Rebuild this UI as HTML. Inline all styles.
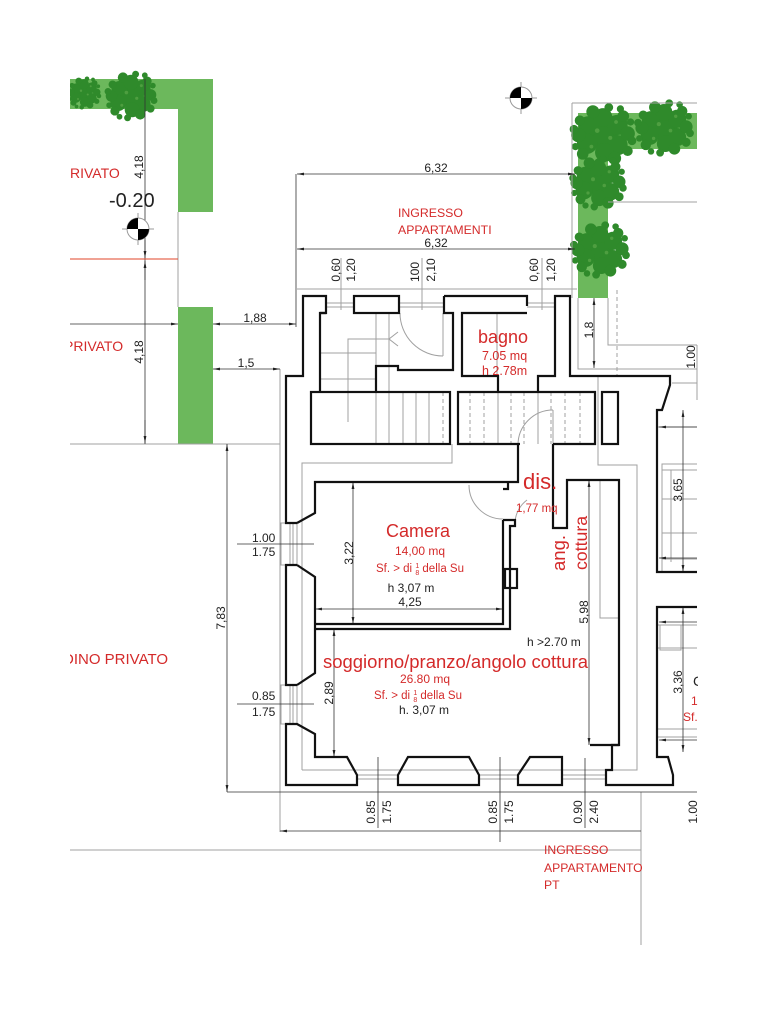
<!DOCTYPE html>
<html><head><meta charset="utf-8"><style>html,body{margin:0;padding:0;background:#fff}svg{display:block}</style></head>
<body>
<svg xmlns="http://www.w3.org/2000/svg" xmlns:xlink="http://www.w3.org/1999/xlink" width="768" height="1024" viewBox="0 0 768 1024" font-family="'Liberation Sans', Arial, sans-serif">
<defs>
<marker id="ar" viewBox="0 0 10 10" refX="10" refY="5" markerWidth="7" markerHeight="7" markerUnits="userSpaceOnUse" orient="auto-start-reverse"><path d="M0,3L10,5L0,7z" fill="#222"/></marker>
<g id="t">
<g fill="#2f8a2b">
<circle r="10"/><circle cx="-10" cy="-6" r="7"/><circle cx="10" cy="-7" r="7"/><circle cx="-11" cy="6" r="7"/><circle cx="10" cy="7" r="7"/><circle cx="0" cy="-12" r="6.5"/><circle cx="1" cy="12" r="6.5"/><circle cx="-17" cy="0" r="5"/><circle cx="17" cy="-1" r="5"/><circle cx="-7" cy="-16" r="4.5"/><circle cx="8" cy="16" r="4.5"/><circle cx="14" cy="-13" r="4"/><circle cx="-14" cy="13" r="4"/><circle cx="-16" cy="-10" r="3.5"/><circle cx="17" cy="11" r="3.5"/><circle cx="-3" cy="19" r="3"/><circle cx="4" cy="-19" r="3"/><circle cx="20" cy="4" r="3"/><circle cx="-20" cy="-4" r="3"/><circle cx="-19" cy="8" r="2.5"/><circle cx="19" cy="-9" r="2.5"/><circle cx="-10" cy="18" r="2.5"/><circle cx="12" cy="-18" r="2.5"/>
</g>
<g fill="#4e9e40"><circle cx="-4" cy="-3" r="1.6"/><circle cx="5" cy="2" r="1.4"/><circle cx="-8" cy="8" r="1.3"/><circle cx="9" cy="-9" r="1.3"/></g>
</g>
</defs>
<rect width="768" height="1024" fill="#fff"/>

<!-- green -->
<g fill="#6cb85c">
<path d="M70,79H213V212H178V109H70Z"/>
<rect x="178" y="307" width="35" height="137"/>
<path d="M578,113H697V149H608V298H578Z"/>
</g>
<use xlink:href="#t" href="#t" transform="translate(84,93) scale(0.75)"/>
<use xlink:href="#t" href="#t" transform="translate(131,96) scale(1.15)"/>
<use xlink:href="#t" href="#t" transform="translate(603,135) scale(1.45)"/>
<use xlink:href="#t" href="#t" transform="translate(664,128) scale(1.3)"/>
<use xlink:href="#t" href="#t" transform="translate(598,183) scale(1.25)"/>
<use xlink:href="#t" href="#t" transform="translate(600,250) scale(1.3)"/>

<!-- gray thin lines -->
<g stroke="#a0a0a0" stroke-width="1" fill="none">
<line x1="178" y1="212" x2="178" y2="307"/>
<line x1="297" y1="289" x2="577" y2="289"/>
<line x1="572" y1="103" x2="572" y2="298"/>
<line x1="572" y1="103" x2="697" y2="103"/>
<line x1="608" y1="202" x2="697" y2="202"/>
<polyline points="608,298 608,345 697,345"/>
<polyline points="578,298 578,369 697,369"/>
<line x1="697" y1="345" x2="697" y2="400"/>
<line x1="672" y1="383" x2="697" y2="383"/>
<line x1="617" y1="290" x2="617" y2="376" stroke-dasharray="4,3"/>
<line x1="280" y1="369" x2="280" y2="832"/>
<line x1="70" y1="444" x2="280" y2="444"/>
<line x1="341" y1="258" x2="341" y2="310"/>
<line x1="422" y1="258" x2="422" y2="310"/>
<line x1="542" y1="258" x2="542" y2="310"/>
<polyline points="302,770 302,463 452,463 452,444"/>
<polyline points="302,770 637,770 637,465 598,465 598,376"/>
<polyline points="600,480 600,618 619,618"/>
<line x1="376" y1="313" x2="376" y2="444"/>
<line x1="389" y1="313" x2="389" y2="444"/>
<line x1="320" y1="379" x2="376" y2="379"/>
<line x1="320" y1="353" x2="376" y2="353"/>
<line x1="403" y1="392" x2="403" y2="444"/>
<line x1="416" y1="392" x2="416" y2="444"/>
<line x1="429" y1="392" x2="429" y2="444"/>
<line x1="443" y1="392" x2="443" y2="444" stroke-dasharray="4,3"/>
<polyline points="348,422 348,339 389,339"/>
<polyline points="398,332 389,339 398,346"/>
<line x1="497" y1="313" x2="497" y2="376"/>
<line x1="498" y1="392" x2="498" y2="444"/>
<line x1="538" y1="392" x2="538" y2="444"/>
<g stroke-dasharray="4,3">
<line x1="470" y1="392" x2="470" y2="444"/><line x1="484" y1="392" x2="484" y2="444"/><line x1="511" y1="392" x2="511" y2="444"/><line x1="524" y1="392" x2="524" y2="444"/><line x1="551" y1="392" x2="551" y2="444"/><line x1="565" y1="392" x2="565" y2="444"/><line x1="580" y1="392" x2="580" y2="444"/>
</g>
<!-- glazing -->
<line x1="326" y1="303" x2="354" y2="303"/><line x1="326" y1="307" x2="354" y2="307"/>
<line x1="399" y1="303" x2="444" y2="303"/><line x1="399" y1="307" x2="444" y2="307"/>
<line x1="527" y1="303" x2="555" y2="303"/><line x1="527" y1="307" x2="555" y2="307"/>
<rect x="281" y="523" width="16" height="42"/><line x1="290" y1="523" x2="290" y2="565"/><line x1="293" y1="523" x2="293" y2="565"/>
<rect x="281" y="685" width="16" height="39"/><line x1="290" y1="685" x2="290" y2="724"/><line x1="293" y1="685" x2="293" y2="724"/>
<line x1="357" y1="775" x2="398" y2="775"/><line x1="357" y1="779" x2="398" y2="779"/>
<line x1="479" y1="775" x2="518" y2="775"/><line x1="479" y1="779" x2="518" y2="779"/>
<line x1="562" y1="775" x2="606" y2="775"/><line x1="562" y1="779" x2="606" y2="779"/>
<!-- right side details -->
<line x1="657" y1="427" x2="697" y2="427"/>
<polyline points="697,464 662,464 662,572"/>
<line x1="671" y1="470" x2="671" y2="562"/>
<line x1="662" y1="470" x2="697" y2="470"/>
<line x1="662" y1="499" x2="697" y2="499"/>
<line x1="662" y1="533" x2="697" y2="533"/>
<line x1="662" y1="559" x2="697" y2="559"/>
<line x1="657" y1="625" x2="697" y2="625"/>
<line x1="657" y1="648" x2="697" y2="648"/>
<rect x="660" y="625" width="21" height="25"/>
<line x1="657" y1="729" x2="697" y2="729"/>
<line x1="657" y1="737" x2="697" y2="737"/>
<line x1="70" y1="850" x2="641" y2="850"/>
<line x1="641" y1="792" x2="641" y2="945"/>
<!-- doors -->
<path d="M400,313 A43,43 0 0 0 443,356"/>
<line x1="443" y1="313" x2="443" y2="356"/>
<path d="M469,485 A34,34 0 0 0 503,519"/>
<path d="M518,445 A35,35 0 0 1 553,410"/>
<line x1="553" y1="410" x2="553" y2="445"/>
<path d="M515,522 A30,30 0 0 1 527,500"/>
</g>

<!-- dimension lines -->
<g stroke="#333" stroke-width="0.8" fill="none">
<line x1="145" y1="79" x2="145" y2="444"/>
<line x1="145" y1="240" x2="145" y2="258" marker-end="url(#ar)"/>
<line x1="145" y1="280" x2="145" y2="261" marker-end="url(#ar)"/>
<line x1="145" y1="420" x2="145" y2="443" marker-end="url(#ar)"/>
<line x1="70" y1="324" x2="178" y2="324" marker-end="url(#ar)"/>
<line x1="213" y1="324" x2="296" y2="324" marker-start="url(#ar)" marker-end="url(#ar)"/>
<line x1="213" y1="369" x2="280" y2="369" marker-start="url(#ar)" marker-end="url(#ar)"/>
<line x1="296" y1="174" x2="296" y2="327"/>
<line x1="297" y1="174" x2="575" y2="174" marker-start="url(#ar)" marker-end="url(#ar)"/>
<line x1="297" y1="249" x2="575" y2="249" marker-start="url(#ar)" marker-end="url(#ar)"/>
<line x1="594" y1="298" x2="594" y2="368" marker-start="url(#ar)" marker-end="url(#ar)"/>
<line x1="353" y1="482" x2="353" y2="624" marker-start="url(#ar)" marker-end="url(#ar)"/>
<line x1="315" y1="609" x2="503" y2="609" marker-start="url(#ar)" marker-end="url(#ar)"/>
<line x1="334" y1="629" x2="334" y2="757" marker-start="url(#ar)" marker-end="url(#ar)"/>
<line x1="589" y1="480" x2="589" y2="745" marker-start="url(#ar)" marker-end="url(#ar)"/>
<line x1="227" y1="444" x2="227" y2="792" marker-start="url(#ar)" marker-end="url(#ar)"/>
<line x1="683" y1="410" x2="683" y2="572" marker-start="url(#ar)" marker-end="url(#ar)"/>
<line x1="683" y1="607" x2="683" y2="752" marker-start="url(#ar)" marker-end="url(#ar)"/>
<line x1="697" y1="427" x2="659" y2="427" marker-end="url(#ar)"/>
<line x1="697" y1="558" x2="659" y2="558" marker-end="url(#ar)"/>
<line x1="697" y1="622" x2="659" y2="622" marker-end="url(#ar)"/>
<line x1="697" y1="740" x2="659" y2="740" marker-end="url(#ar)"/>
<line x1="237" y1="544" x2="314" y2="544"/>
<line x1="237" y1="704" x2="314" y2="704"/>
<line x1="227" y1="792" x2="697" y2="792"/>
<line x1="378" y1="757" x2="378" y2="828"/>
<line x1="500" y1="757" x2="500" y2="842"/>
<line x1="585" y1="758" x2="585" y2="828"/>
<line x1="641" y1="831" x2="280" y2="831" marker-end="url(#ar)"/>
</g>
<line x1="70" y1="259" x2="178" y2="259" stroke="#e0452a" stroke-width="1"/>

<!-- walls -->
<g stroke="#111" stroke-width="2.2" fill="none" stroke-linejoin="miter">
<polyline points="326,313 320,313 320,392"/>
<polyline points="320,313 326,313 326,296 303,296 303,376 286,376 286,523 297,523"/>
<polyline points="297,565 286,565 286,685 297,685"/>
<polygon points="297,724 315,734 315,757 347,757 357,775 357,785 286,785 286,724"/>
<polyline points="297,523 315,513 315,482 518,482 518,444"/>
<polyline points="297,565 315,577 315,673 297,685"/>
<polyline points="503,520 503,624 315,624"/>
<polyline points="503,489 508,489 508,482"/>
<polyline points="503,520 515,520 515,526 510,526 510,629 315,629"/>
<rect x="505" y="569" width="12" height="19"/>
<rect x="354" y="296" width="45" height="17"/>
<rect x="311" y="392" width="139" height="52"/>
<polyline points="444,296 444,313 453,313 453,370 398,370 398,366 376,366 376,392"/>
<polyline points="444,296 527,296 527,306"/>
<polyline points="527,313 462,313 462,376 498,376 498,392"/>
<polyline points="538,392 538,376 555,376 555,296 570,296 570,376 670,376 670,385 662,410 657,410 657,572 697,572"/>
<polyline points="520,444 458,444 458,392 595,392 595,444 553,444"/>
<rect x="602" y="392" width="16" height="52"/>
<polyline points="553,444 553,528 567,528 567,480 619,480 619,745 590,745"/>
<polyline points="619,745 612,745 612,770 606,770 606,785 673,785 673,775 668,757 657,757 657,607 697,607"/>
<polygon points="398,785 398,775 408,757 469,757 479,775 479,785"/>
<polygon points="518,785 518,775 530,757 562,757 562,785"/>
</g>

<!-- level markers -->
<g>
<line x1="122" y1="229" x2="154" y2="229" stroke="#999" stroke-width="1"/>
<line x1="138" y1="213" x2="138" y2="245" stroke="#999" stroke-width="1"/>
<circle cx="138" cy="229" r="11" fill="#fff" stroke="#999" stroke-width="1"/>
<path d="M138,229 L127,229 A11,11 0 0 1 138,218 Z" fill="#000"/>
<path d="M138,229 L149,229 A11,11 0 0 1 138,240 Z" fill="#000"/>
<line x1="505" y1="98" x2="537" y2="98" stroke="#999" stroke-width="1"/>
<line x1="521" y1="82" x2="521" y2="114" stroke="#999" stroke-width="1"/>
<circle cx="521" cy="98" r="11" fill="#fff" stroke="#999" stroke-width="1"/>
<path d="M521,98 L510,98 A11,11 0 0 1 521,87 Z" fill="#000"/>
<path d="M521,98 L532,98 A11,11 0 0 1 521,109 Z" fill="#000"/>
</g>

<!-- black text -->
<g fill="#222" font-size="12">
<text x="436" y="172" text-anchor="middle">6,32</text>
<text x="436" y="247" text-anchor="middle">6,32</text>
<text x="109" y="207" font-size="20">-0.20</text>
<text x="255" y="322" text-anchor="middle">1,88</text>
<text x="246" y="367" text-anchor="middle">1,5</text>
<text x="252" y="542">1.00</text>
<text x="252" y="556">1.75</text>
<text x="252" y="700">0.85</text>
<text x="252" y="716">1.75</text>
<text x="411" y="592" text-anchor="middle">h 3,07 m</text>
<text x="410" y="606" text-anchor="middle">4,25</text>
<text x="527" y="646">h &gt;2.70 m</text>
<text x="424" y="714" text-anchor="middle">h. 3,07 m</text>
<text x="693" y="686" font-size="14">C</text>
<g text-anchor="middle">
<text transform="translate(143,167) rotate(-90)">4,18</text>
<text transform="translate(143,352) rotate(-90)">4,18</text>
<text transform="translate(340,270) rotate(-90)">0,60</text>
<text transform="translate(355,270) rotate(-90)">1,20</text>
<text transform="translate(419,272) rotate(-90)">100</text>
<text transform="translate(435,270) rotate(-90)">2,10</text>
<text transform="translate(538,270) rotate(-90)">0,60</text>
<text transform="translate(555,270) rotate(-90)">1,20</text>
<text transform="translate(593,330) rotate(-90)">1,8</text>
<text transform="translate(695,357) rotate(-90)">1.00</text>
<text transform="translate(682,490) rotate(-90)">3,65</text>
<text transform="translate(682,682) rotate(-90)">3,36</text>
<text transform="translate(225,618) rotate(-90)">7,83</text>
<text transform="translate(353,553) rotate(-90)">3,22</text>
<text transform="translate(333,693) rotate(-90)">2,89</text>
<text transform="translate(588,612) rotate(-90)">5,98</text>
<text transform="translate(375,812) rotate(-90)">0.85</text>
<text transform="translate(391,812) rotate(-90)">1.75</text>
<text transform="translate(497,812) rotate(-90)">0.85</text>
<text transform="translate(513,812) rotate(-90)">1.75</text>
<text transform="translate(582,812) rotate(-90)">0.90</text>
<text transform="translate(598,812) rotate(-90)">2.40</text>
<text transform="translate(697,812) rotate(-90)">1.00</text>
</g>
</g>

<!-- red text -->
<g fill="#d42a2a">
<text x="70" y="178" font-size="14">RIVATO</text>
<text x="64" y="351" font-size="14">PRIVATO</text>
<text x="63" y="664" font-size="15">DINO PRIVATO</text>
<text x="398" y="217" font-size="12.3">INGRESSO</text>
<text x="398" y="234" font-size="12.3">APPARTAMENTI</text>
<text x="478" y="343" font-size="18">bagno</text>
<text x="482" y="360" font-size="12.5">7.05 mq</text>
<text x="482" y="375" font-size="12.5">h 2.78m</text>
<text x="523" y="489" font-size="22">dis.</text>
<text x="516" y="512" font-size="11.5">1,77 mq</text>
<text x="418" y="537" font-size="18" text-anchor="middle">Camera</text>
<text x="420" y="555" font-size="12" text-anchor="middle">14,00 mq</text>
<text x="420" y="572" font-size="11.5" text-anchor="middle">Sf. &gt; di <tspan font-size="7" dy="-4">1</tspan><tspan font-size="7" dx="-3.9" dy="7">8</tspan><tspan dy="-3"> della Su</tspan></text>
<text transform="translate(565,553) rotate(-90)" font-size="18.5" text-anchor="middle">ang.</text>
<text transform="translate(587,543) rotate(-90)" font-size="17.7" text-anchor="middle">cottura</text>
<text x="323" y="668" font-size="18.5" textLength="265" lengthAdjust="spacingAndGlyphs">soggiorno/pranzo/angolo cottura</text>
<text x="425" y="683" font-size="12" text-anchor="middle">26.80 mq</text>
<text x="418" y="699" font-size="11.5" text-anchor="middle">Sf. &gt; di <tspan font-size="7" dy="-4">1</tspan><tspan font-size="7" dx="-3.9" dy="7">8</tspan><tspan dy="-3"> della Su</tspan></text>
<text x="544" y="854" font-size="12.2">INGRESSO</text>
<text x="544" y="872" font-size="12.2">APPARTAMENTO</text>
<text x="544" y="889" font-size="12.2">PT</text>
<text x="691" y="705" font-size="12">1</text>
<text x="683" y="721" font-size="12">Sf.</text>
</g>

<!-- clip edges -->
<rect x="0" y="0" width="70" height="1024" fill="#fff"/>
<rect x="698" y="0" width="70" height="1024" fill="#fff"/>
</svg>
</body></html>
